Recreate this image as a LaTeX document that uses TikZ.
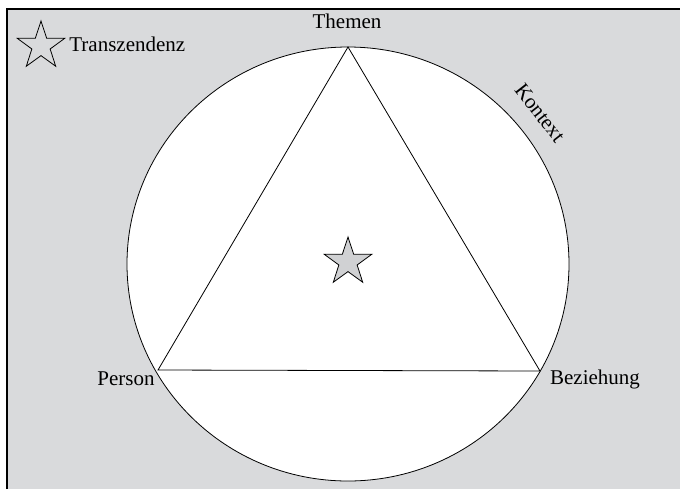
\documentclass[tikz,border=0pt]{standalone}
\usepackage{fontspec}
\setmainfont{Liberation Serif}
\usetikzlibrary{shapes.geometric}
\definecolor{hintergrund}{RGB}{217,218,220}
\definecolor{sternfarbe}{RGB}{208,209,211}

\begin{document}
\begin{tikzpicture}[x=0.5pt,y=-0.5pt,
    beschriftung/.style={font=\fontsize{10.5}{12}\selectfont, inner sep=0pt},
    stern/.style={star, star points=5, star point ratio=2.6, draw, line width=0.4pt,
        minimum size=25pt, inner sep=0pt}]
        \useasboundingbox (0,0) rectangle (680,489);
        % Hintergrund und Rahmen
        \fill[hintergrund] (7,9) rectangle (680,489);
        \draw[line width=0.8pt] (7,489) -- (7,9) -- (680,9);
        % Kontext
        \draw[fill=white, line width=0.4pt] (348,264) ellipse (221 and 217);
        % Dreieck
        \coordinate (themen) at (348,47);
        \coordinate (person) at (158,370);
        \coordinate (beziehung) at (540,371);
        \draw[line width=0.4pt] (themen) -- (person) -- (beziehung) -- cycle;
        % Beschriftungen
        \node[beschriftung] (themenlabel) at (347,21) {Themen};
        \node[beschriftung] (personlabel) at (126,379) {Person};
        \node[beschriftung] (beziehunglabel) at (595,379) {Beziehung};
        \node[beschriftung, rotate=-52] (kontextlabel) at (540,113) {Kontext};
        % Transzendenz
        \node[stern] (legendenstern) at (41,46) {};
        \node[beschriftung, anchor=west] (transzendenzlabel) at (69,44) {Transzendenz};
        \node[stern, fill=sternfarbe] (mittelstern) at (348,262) {};
    \end{tikzpicture}
\end{document}
